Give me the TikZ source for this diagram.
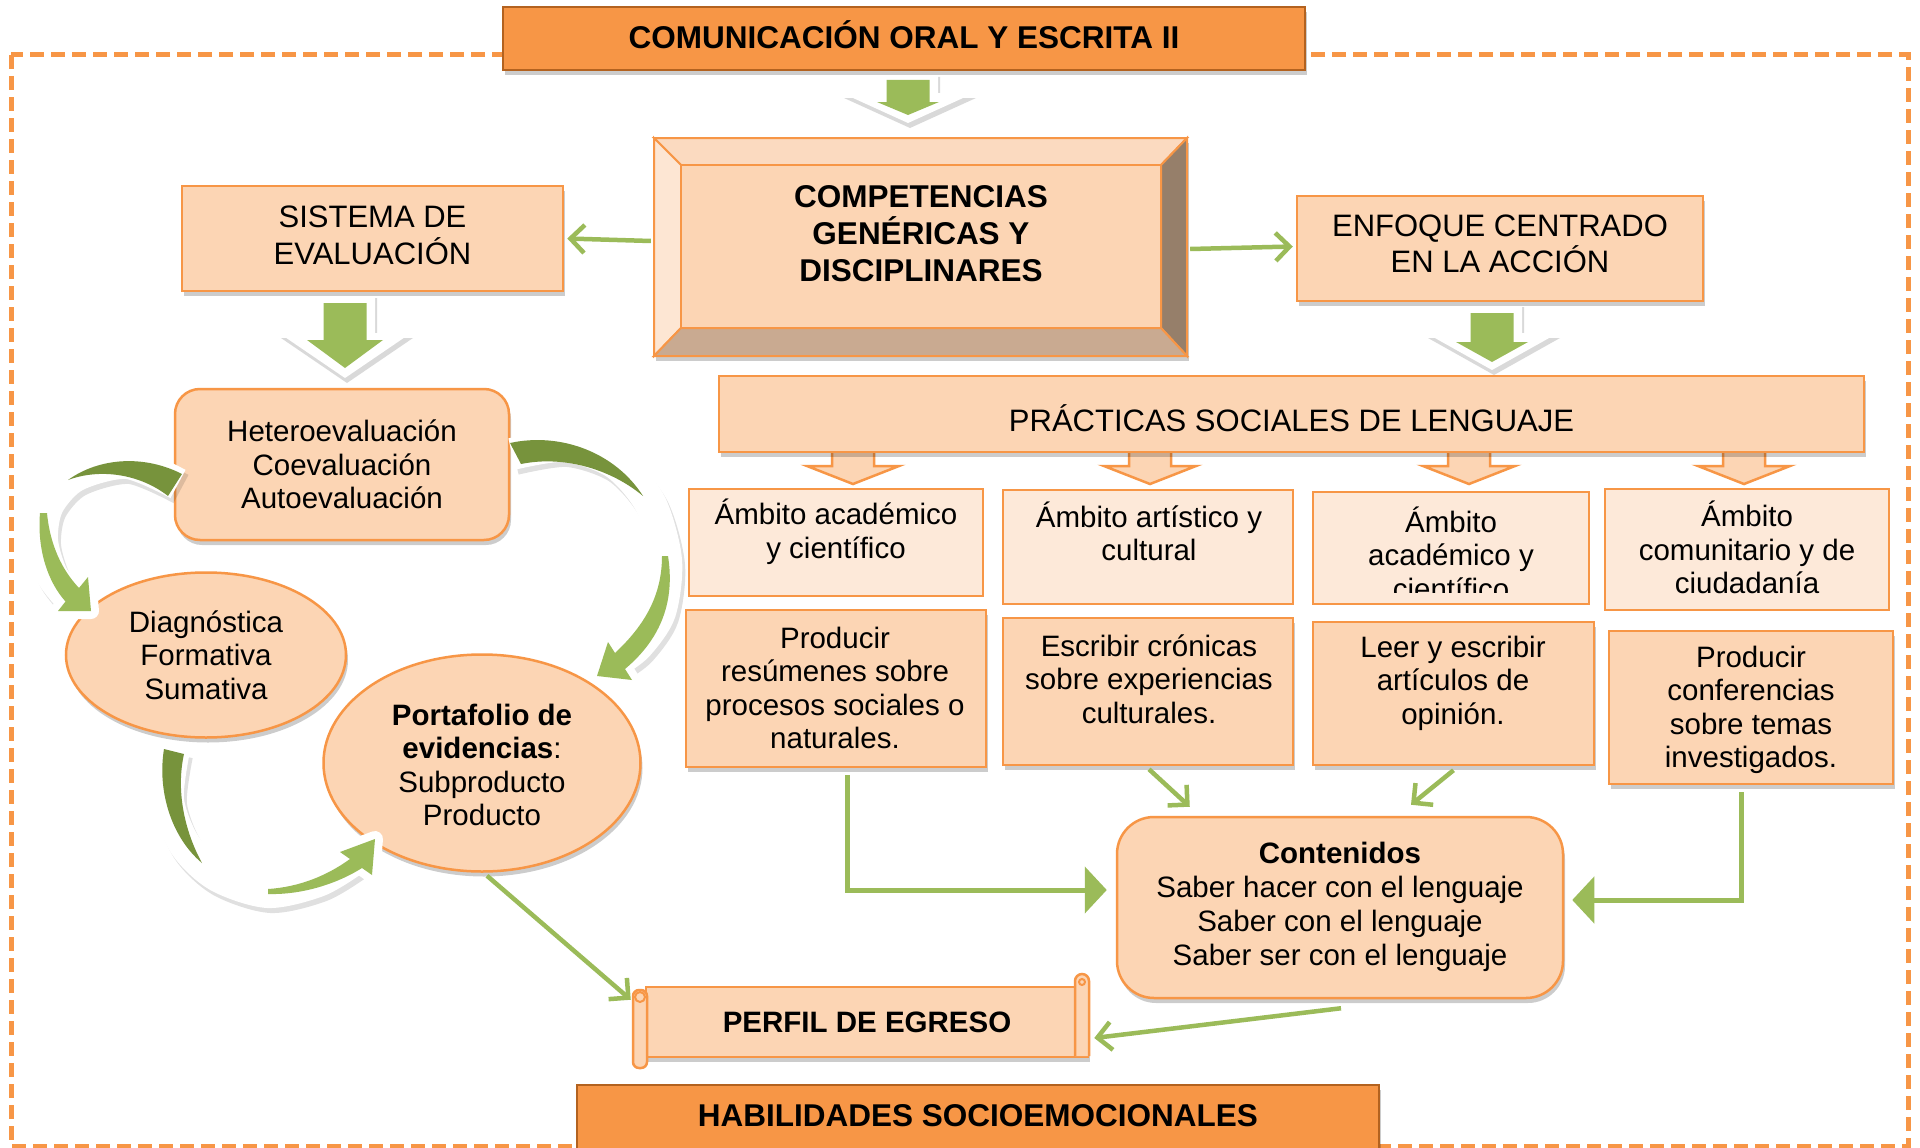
\documentclass[tikz,border=0pt]{standalone}
\usepackage{fontspec}
\setmainfont{Liberation Sans}
\usetikzlibrary{arrows.meta,shadows,shapes.geometric,calc}
\definecolor{peach}{HTML}{FCD5B4}
\definecolor{lpeach}{HTML}{FDE9D9}
\definecolor{orng}{HTML}{F79646}
\definecolor{dorng}{HTML}{B3621F}
\definecolor{grn}{HTML}{9BBB59}
\definecolor{dgrn}{HTML}{77933C}
\definecolor{bevR}{HTML}{967F6A}
\definecolor{bevB}{HTML}{C9AA91}
\definecolor{bevT}{HTML}{FBDAC0}
\definecolor{bevL}{HTML}{FDE6D3}
\newcommand\gbarrow[8]{%
  \fill[white,drop shadow={shadow xshift=2pt,shadow yshift=-5pt,opacity=0.15,fill=black}] (#1-30,#2) -- (#1+30,#2) -- (#1+30,#3) -- (#1+66,#3) -- (#1,#4) -- (#1-66,#3) -- (#1-30,#3) -- cycle;
  \fill[grn] (#1-21.5,#5) -- (#1+21.5,#5) -- (#1+21.5,#6) -- (#1+#8,#6) -- (#1,#7) -- (#1-#8,#6) -- (#1-21.5,#6) -- cycle;}
\newcommand\obarrow[1]{%
  \filldraw[fill=peach,draw=orng,line width=2.5pt,line join=miter] (#1-21,446) -- (#1+21,446) -- (#1+21,466) -- (#1+46,466) -- (#1,484) -- (#1-46,466) -- (#1-21,466) -- cycle;}
\begin{document}
\begin{tikzpicture}[x=1pt,y=-1pt,
  shad/.style={drop shadow={shadow xshift=2pt,shadow yshift=-5pt,opacity=0.2,fill=black}},
  pbox/.style={draw=orng,line width=2.5pt,fill=peach,inner sep=0pt,shad},
  lbox/.style={draw=orng,line width=2.5pt,fill=lpeach,inner sep=0pt},
  hdr/.style={draw=dorng,line width=2.5pt,fill=orng,inner sep=0pt,shad},
  hdrtxt/.style={inner sep=0pt,font=\fontsize{31.5pt}{38pt}\selectfont\bfseries},
  txt/.style={align=center,inner sep=0pt,font=\fontsize{29.5pt}{33.5pt}\selectfont},
  bigtxt/.style={align=center,inner sep=0pt,font=\fontsize{31pt}{36.5pt}\selectfont},
  conn/.style={draw=grn,line width=4.5pt,-{Straight Barb[length=14pt,width=28pt]}},
  elbow/.style={draw=grn,line width=5pt,-{Triangle[length=22pt,width=46pt]}},
  scroll/.style={draw=orng,line width=2.5pt,fill=peach}
]
\useasboundingbox (0,0) rectangle (1920,1148);
\fill[white] (0,0) rectangle (1920,1148);
% dashed frame
\draw[orng,line width=5pt,dash pattern=on 14pt off 7pt] (11,55) rectangle (1908,1146);

% block arrows
\gbarrow{908}{72}{93}{123}{80}{102}{115}{31}
\gbarrow{345}{293}{333}{378}{303}{340}{368}{38}
\gbarrow{1492}{302}{333}{370}{313}{342}{362}{36}

% title
\node[hdr,minimum width=802pt,minimum height=63pt] (title) at (904,38.5) {};
\node[hdrtxt] (titlet) at (904,35) {COMUNICACIÓN ORAL Y ESCRITA II};

% bevel box
\node[inner sep=0pt,minimum width=533pt,minimum height=218pt,fill=peach,shad] (comp) at (920.5,247) {};
\begin{scope}[draw=orng,line width=2pt,line join=miter]
\filldraw[fill=bevT] (654,138) -- (1187,138) -- (1161,165) -- (681,165) -- cycle;
\filldraw[fill=bevL] (654,138) -- (681,165) -- (681,328) -- (654,356) -- cycle;
\filldraw[fill=bevR] (1187,138) -- (1187,356) -- (1161,328) -- (1161,165) -- cycle;
\filldraw[fill=bevB] (654,356) -- (1187,356) -- (1161,328) -- (681,328) -- cycle;
\filldraw[fill=peach] (681,165) rectangle (1161,328);
\end{scope}
\node[align=center,inner sep=0pt,font=\fontsize{31.5pt}{37pt}\selectfont\bfseries] (comptxt) at (921,234) {COMPETENCIAS\\GENÉRICAS Y\\DISCIPLINARES};

\node[pbox,minimum width=381pt,minimum height=105pt] (sis) at (372.5,238.5) {};
\node[bigtxt] (sist) at (372.5,235.5) {SISTEMA DE\\EVALUACIÓN};
\node[pbox,minimum width=406pt,minimum height=105pt] (enf) at (1500,248.5) {};
\node[bigtxt] (enft) at (1500,244) {ENFOQUE CENTRADO\\EN LA ACCIÓN};

% small orange arrows then practicas
\obarrow{853}
\obarrow{1150}
\obarrow{1469}
\obarrow{1744}
\node[pbox,minimum width=1145pt,minimum height=76pt] (prac) at (1291.5,414) {};
\node[bigtxt] (pract) at (1291.5,418) {PRÁCTICAS SOCIALES DE LENGUAJE};

% ambito boxes
\node[lbox,minimum width=294pt,minimum height=107pt] (a1) at (836,542.5) {};
\node[lbox,minimum width=290pt,minimum height=114pt] (a2) at (1148,547) {};
\node[lbox,minimum width=276pt,minimum height=112pt] (a3) at (1451,548) {};
\node[lbox,minimum width=284pt,minimum height=121pt] (a4) at (1747,549.5) {};
\node[txt] (a1t) at (836,532) {Ámbito académico\\y científico};
\node[txt] (a2t) at (1149,531.5) {Ámbito artístico y\\cultural};
\begin{scope}
\clip (1313,492) rectangle (1589,592);
\node[txt] (a3t) at (1451,553) {Ámbito\\académico y\\científico};
\end{scope}
\node[txt] (a4t) at (1747,547.5) {Ámbito\\comunitario y de\\ciudadanía};

% action boxes
\node[pbox,minimum width=300pt,minimum height=157pt] (p1) at (836,688.5) {};
\node[pbox,minimum width=290pt,minimum height=147pt] (p2) at (1148,691.5) {};
\node[pbox,minimum width=281pt,minimum height=143pt] (p3) at (1453.5,693.5) {};
\node[pbox,minimum width=284pt,minimum height=153pt] (p4) at (1751,707.5) {};
\node[txt] (p1t) at (835,688) {Producir\\resúmenes sobre\\procesos sociales o\\naturales.};
\node[txt] (p2t) at (1149,679) {Escribir crónicas\\sobre experiencias\\culturales.};
\node[txt] (p3t) at (1453,683) {Leer y escribir\\artículos de\\opinión.};
\node[txt] (p4t) at (1751,710) {Producir\\conferencias\\sobre temas\\investigados.};

% evaluation cluster
\node[pbox,rounded corners=25pt,minimum width=334pt,minimum height=151pt,txt] (het) at (342,464.5) {Heteroevaluación\\Coevaluación\\Autoevaluación};
\node[pbox,ellipse,minimum width=280pt,minimum height=165pt,txt] (diag) at (206,655) {Diagnóstica\\Formativa\\Sumativa};
\node[pbox,ellipse,minimum width=317pt,minimum height=217pt] (port) at (482,763) {};
\node[txt] (portt) at (482,765) {{\bfseries Portafolio de}\\{\bfseries evidencias}:\\Subproducto\\Producto};

% contenidos
\node[pbox,rounded corners=37pt,minimum width=446pt,minimum height=181pt] (cont) at (1340,907.5) {};
\node[align=center,inner sep=0pt,font=\fontsize{29.5pt}{34pt}\selectfont] (contt) at (1340,907) {{\bfseries Contenidos}\\Saber hacer con el lenguaje\\Saber con el lenguaje\\Saber ser con el lenguaje};

% perfil scroll
\node[pbox,minimum width=442pt,minimum height=70pt,font=\fontsize{29.5pt}{34pt}\selectfont\bfseries] (perfil) at (867,1022) {PERFIL DE EGRESO};
\filldraw[scroll,rounded corners=6pt] (633,990) rectangle (647,1068);
\draw[orng,line width=2pt] (640,997) circle[radius=5];
\filldraw[scroll] (1075,1056) -- (1075,981) arc[start angle=180,end angle=360,radius=7] -- (1089,1056);
\draw[orng,line width=2pt] (1082,982) circle[radius=3];

% habilidades
\node[hdr,minimum width=802pt,minimum height=70pt] (hab) at (978,1120) {};
\node[hdrtxt] (habt) at (978,1116) {HABILIDADES SOCIOEMOCIONALES};

% connectors
\draw[conn] ($(comp.west)+(-3,-6)$) -- ($(sis.east)+(3,0)$);
\draw[conn] ($(comp.east)+(3,2)$) -- ($(enf.west)+(-3,-2)$);
\draw[elbow] ($(p1.south)+(11,7)$) |- ($(cont.west)+(-9,-17.5)$);
\draw[elbow] ($(p4.south)+(-10,7)$) |- ($(cont.east)+(8,-7.5)$);
\draw[conn] ($(p2.south)+(1,3)$) -- ($(cont.north west)+(74,-9)$);
\draw[conn] ($(p3.south)+(0,4)$) -- ($(cont.north)+(71,-11)$);
\draw[conn] ($(port.south)+(5,3)$) -- ($(perfil.north west)+(-14,14)$);
\draw[conn] ($(cont.south)+(1,9)$) -- ($(perfil.east)+(5,16)$);

% curved arrows: shadows
\begin{scope}[shift={(3,5)},opacity=0.12]
\draw[black,line width=32pt] plot[smooth] coordinates {(178,484) (127,463) (75,476) (48,505) (42,540) (52,575) (70,598)};
\draw[black,line width=32pt] plot[smooth] coordinates {(512,454) (565,446) (615,463) (650,503) (666,560) (660,612) (638,645) (618,660)};
\draw[black,line width=32pt] plot[smooth] coordinates {(174,750) (168,800) (185,845) (218,876) (268,892) (318,881) (352,861)};
\end{scope}
% white outlines
\draw[white,line width=32pt] plot[smooth] coordinates {(178,484) (127,463) (75,476) (48,505) (42,540) (52,575) (70,598)};
\filldraw[white,line width=16pt,line join=round] (58,611) -- (91,611) -- (88,577) -- cycle;
\draw[white,line width=32pt] plot[smooth] coordinates {(512,454) (565,446) (615,463) (650,503) (666,560) (660,612) (638,645) (618,660)};
\filldraw[white,line width=16pt,line join=round] (608,642) -- (597,676) -- (632,680) -- cycle;
\draw[white,line width=32pt] plot[smooth] coordinates {(174,750) (168,800) (185,845) (218,876) (268,892) (318,881) (352,861)};
\filldraw[white,line width=16pt,line join=round] (340,852) -- (375,839) -- (372,875) -- cycle;
% green bodies
\fill[dgrn] (182,474) .. controls (145,455) and (100,457) .. (68,480) .. controls (100,468) and (140,474) .. (168,496) -- cycle;
\fill[grn] (40,513) .. controls (37,550) and (48,582) .. (65.5,601.5) -- (58,611) -- (91,611) -- (88,577) -- (79,588) .. controls (62,570) and (50,545) .. (47,513) -- cycle;
\fill[dgrn] (510,443) .. controls (560,432) and (615,452) .. (643,496) .. controls (612,470) and (565,455) .. (521,464) -- cycle;
\fill[grn] (668,556) .. controls (675,600) and (662,638) .. (625,669) -- (632,680) -- (597,676) -- (608,642) -- (615,653) .. controls (645,625) and (662,595) .. (662,556) -- cycle;
\fill[dgrn] (164,749) .. controls (157,792) and (172,838) .. (202,863) .. controls (184,830) and (176,790) .. (184,754) -- cycle;
\fill[grn] (268,894) .. controls (305,895) and (340,882) .. (362,868) -- (372,875) -- (375,839) -- (340,852) -- (350,859) .. controls (328,875) and (300,887) .. (268,889) -- cycle;
\end{tikzpicture}
\end{document}
